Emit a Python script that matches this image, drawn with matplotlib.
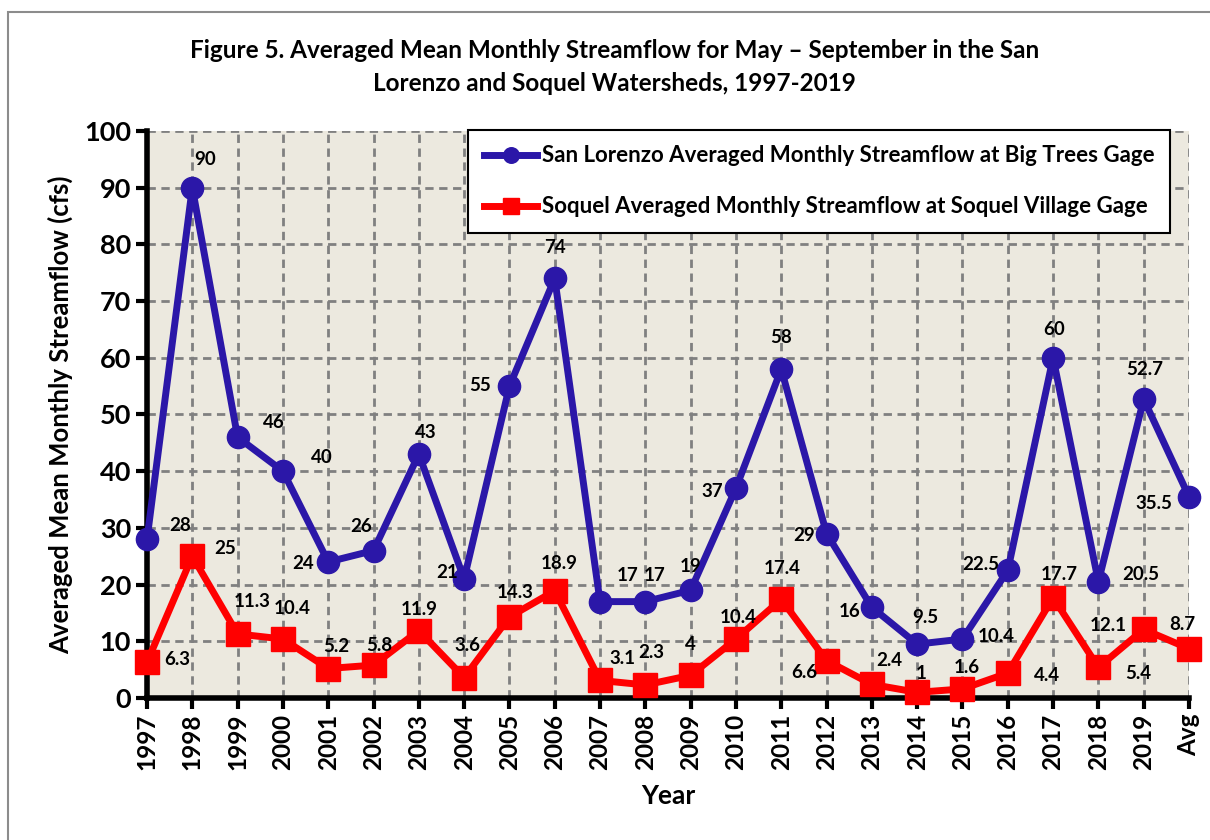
import matplotlib.pyplot as plt
from matplotlib.patches import Rectangle

plt.rcParams['font.family'] = ['Lato', 'DejaVu Sans']
plt.rcParams['font.weight'] = 'bold'

years = ['1997', '1998', '1999', '2000', '2001', '2002', '2003', '2004', '2005', '2006',
         '2007', '2008', '2009', '2010', '2011', '2012', '2013', '2014', '2015', '2016',
         '2017', '2018', '2019', 'Avg']
san_lorenzo = [28, 90, 46, 40, 24, 26, 43, 21, 55, 74, 17, 17, 19, 37, 58, 29, 16, 9.5,
               10.4, 22.5, 60, 20.5, 52.7, 35.5]
soquel = [6.3, 25, 11.3, 10.4, 5.2, 5.8, 11.9, 3.6, 14.3, 18.9, 3.1, 2.3, 4, 10.4, 17.4,
          6.6, 2.4, 1, 1.6, 4.4, 17.7, 5.4, 12.1, 8.7]

# label offsets in pixels (dx, dy), dy positive = downward on screen
sl_off = [(33, -14), (13, -28), (36, -15), (39, -14), (-25, 2), (-12, -24), (7, -22),
          (-17, -6), (-29, -1), (0, -31), (28, -26), (9, -26), (0, -24), (-24, 3),
          (0, -32), (-22, 2), (-22, 4), (8, -27), (34, -3), (-27, -6), (1, -28),
          (42, -7), (1, -30), (-35, 7)]
sq_off = [(30, -3), (33, -8), (15, -32), (9, -31), (8, -22), (6, -20), (0, -21),
          (3, -32), (6, -24), (4, -27), (22, -22), (6, -32), (0, -31), (2, -22),
          (1, -31), (-22, 12), (17, -24), (4, -19), (4, -21), (39, 2), (6, -23),
          (40, 6), (-35, -4), (-7, -24)]

blue = '#2B17A8'
red = '#FF0000'

fig = plt.figure(figsize=(12.1, 8.4), dpi=100)
fig.patches.append(Rectangle((8 / 1210, -0.1), 1.2, 1.1 - 12 / 840, transform=fig.transFigure,
                             fill=False, edgecolor='#8C8C8C', linewidth=1.5))
ax = fig.add_axes([147 / 1210, 142 / 840, 1042 / 1210, 567 / 840])
ax.set_facecolor('#ECE9DF')

x = list(range(len(years)))
ax.plot(x, san_lorenzo, color=blue, linewidth=5, marker='o', markersize=16,
        label='San Lorenzo Averaged Monthly Streamflow at Big Trees Gage', clip_on=False, zorder=4)
ax.plot(x, soquel, color=red, linewidth=5, marker='s', markersize=17,
        label='Soquel Averaged Monthly Streamflow at Soquel Village Gage', clip_on=False, zorder=4)

for i in x:
    ax.annotate(str(san_lorenzo[i]), (i, san_lorenzo[i]), xytext=(sl_off[i][0], -sl_off[i][1]),
                textcoords='offset pixels', ha='center', va='center', fontsize=13.5,
                fontweight='bold', zorder=5)
    ax.annotate(str(soquel[i]), (i, soquel[i]), xytext=(sq_off[i][0], -sq_off[i][1]),
                textcoords='offset pixels', ha='center', va='center', fontsize=13.5,
                fontweight='bold', zorder=5)

ax.set_xlim(0, len(years) - 1)
ax.set_ylim(0, 100)
ax.set_xticks(x)
ax.set_xticklabels(years, rotation=90, fontsize=17.5, fontweight='bold')
ax.set_yticks(range(0, 101, 10))
ax.tick_params(axis='y', labelsize=19.5, width=3, length=8, direction='out')
ax.tick_params(axis='x', width=3, length=8, direction='out')
for lab in ax.get_yticklabels():
    lab.set_fontweight('bold')

ax.grid(True, color='#808080', linestyle=(0, (3, 2)), linewidth=2)
ax.set_axisbelow(True)
for s in ['top', 'right']:
    ax.spines[s].set_visible(False)
for s in ['left', 'bottom']:
    ax.spines[s].set_linewidth(4)
    ax.spines[s].set_zorder(3)

ax.set_xlabel('Year', fontsize=19, fontweight='bold', labelpad=10)
ax.set_ylabel('Averaged Mean Monthly Streamflow (cfs)', fontsize=18.5, fontweight='bold', labelpad=8)

fig.text(0.508, 0.92, 'Figure 5. Averaged Mean Monthly Streamflow for May \u2013 September in the San\n'
         'Lorenzo and Soquel Watersheds, 1997-2019', ha='center', va='center', fontsize=17.5,
         fontweight='bold', linespacing=1.55)

leg = ax.legend(loc='upper right', bbox_to_anchor=((1170 - 147) / 1042, 1.002), fontsize=16,
                fancybox=False, edgecolor='black', framealpha=1, borderaxespad=0,
                handlelength=2.4, labelspacing=1.35, handletextpad=0.2, borderpad=0.7,
                markerscale=0.7)
leg.get_frame().set_linewidth(1.5)
leg.set_zorder(6)
for t in leg.get_texts():
    t.set_fontweight('bold')

fig.savefig('out.png', dpi=100)
